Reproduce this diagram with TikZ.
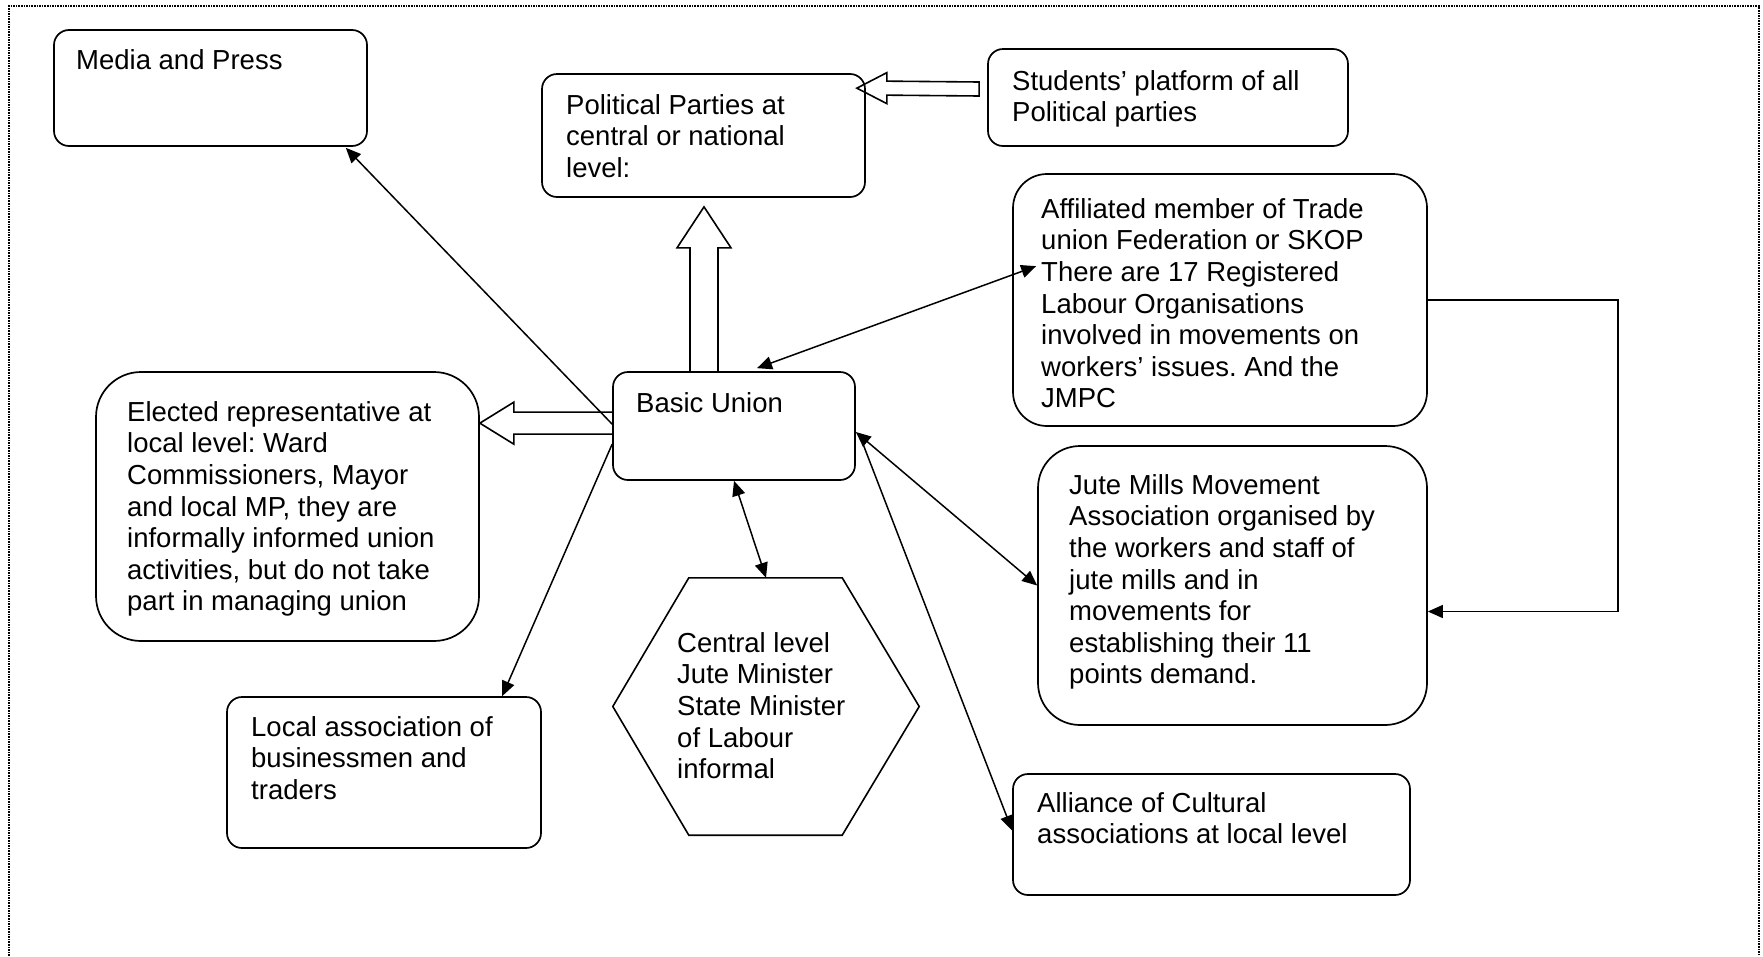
\documentclass[tikz,border=0pt]{standalone}
\usepackage{fontspec}
\setmainfont{Liberation Sans}
\usetikzlibrary{arrows.meta,calc}
\newcommand\lnstart{\rule{0pt}{20pt}}
\frenchspacing
\begin{document}
\begin{tikzpicture}[x=1pt,y=-1pt,
  box/.style={draw, line width=1.7pt, rounded corners=15pt, inner sep=0pt},
  txt/.style={anchor=north west, inner sep=0pt, align=left,
              font=\fontsize{27.5}{31.6}\selectfont},
  link/.style={line width=1.5pt, -{Triangle[length=15pt,width=13pt]}},
  dlink/.style={line width=1.5pt, {Triangle[length=15pt,width=13pt]}-{Triangle[length=15pt,width=13pt]}},
  block/.style={draw, line width=1.6pt, line join=miter},
  frame/.style={densely dotted, line width=1.6pt}]
\useasboundingbox (0,0) rectangle (1763,956);

% page frame
\draw[frame] (9,956) -- (9,6) -- (1759,6) -- (1759,956);

% boxes
\node[box, minimum width=313pt, minimum height=116pt] (media) at (210.5,88) {};
\node[box, minimum width=323pt, minimum height=123pt] (political) at (703.5,135.5) {};
\node[box, minimum width=360pt, minimum height=97pt] (students) at (1168,97.5) {};
\node[box, rounded corners=34pt, minimum width=414pt, minimum height=252pt] (affil) at (1220,300) {};
\node[box, minimum width=242pt, minimum height=108pt] (basic) at (734,426) {};
\node[box, rounded corners=45pt, minimum width=383pt, minimum height=269pt] (elected) at (287.5,506.5) {};
\node[box, minimum width=314pt, minimum height=151pt] (local) at (384,772.5) {};
\node[box, rounded corners=42pt, minimum width=389pt, minimum height=279pt] (jute) at (1232.5,585.5) {};
\node[box, minimum width=397pt, minimum height=121pt] (alliance) at (1211.5,834.5) {};

% hexagon for the ministers
\node[inner sep=0pt, minimum width=306pt, minimum height=257pt] (hex) at (766,706.5) {};
\draw[line width=1.6pt, line join=miter]
  (hex.west) -- ([xshift=76pt]hex.north west) -- ([xshift=-77pt]hex.north east)
  -- (hex.east) -- ([xshift=-77pt]hex.south east) -- ([xshift=76pt]hex.south west) -- cycle;

% texts
\node[txt] (mediatxt) at (76,49) {\lnstart Media and Press};
\node[txt] (politicaltxt) at (566,94) {\lnstart Political Parties at\\central or national\\level:};
\node[txt] (studentstxt) at (1012,70) {\lnstart Students’ platform of all\\Political parties};
\node[txt] (affiltxt) at (1041,198) {\lnstart Affiliated member of Trade\\union Federation or SKOP\\There are 17 Registered\\Labour Organisations\\involved in movements on\\workers’ issues. And the\\JMPC};
\node[txt] (basictxt) at (636,392) {\lnstart Basic Union};
\node[txt] (electedtxt) at (127,401) {\lnstart Elected representative at\\local level: Ward\\Commissioners, Mayor\\and local MP, they are\\informally informed union\\activities, but do not take\\part in managing union};
\node[txt] (localtxt) at (251,716) {\lnstart Local association of\\businessmen and\\traders};
\node[txt] (hextxt) at (677,632) {\lnstart Central level\\Jute Minister\\State Minister\\of Labour\\informal};
\node[txt] (jutetxt) at (1069,474) {\lnstart Jute Mills Movement\\Association organised by\\the workers and staff of\\jute mills and in\\movements for\\establishing their 11\\points demand.};
\node[txt] (alliancetxt) at (1037,792) {\lnstart Alliance of Cultural\\associations at local level};

% block arrow: Basic Union up to Political Parties
\coordinate (upbase) at ([xshift=-30pt]basic.north);
\coordinate (uptip) at ([yshift=-9pt]political.south);
\draw[block] ($(upbase)+(-14,0)$) -- ($(upbase |- uptip)+(-14,41)$) -- ($(upbase |- uptip)+(-27,41)$)
  -- (upbase |- uptip) -- ($(upbase |- uptip)+(27,41)$) -- ($(upbase |- uptip)+(14,41)$) -- ($(upbase)+(14,0)$);

% block arrow: Basic Union left to elected representatives
\coordinate (lbase) at ([yshift=-52pt]basic.north west);
\coordinate (ltip) at ([yshift=-52pt]elected.north east);
\draw[block] ($(lbase)+(0,-11)$) -- ($(ltip)+(34,-11)$) -- ($(ltip)+(34,-21)$) -- (ltip)
  -- ($(ltip)+(34,21)$) -- ($(ltip)+(34,11)$) -- ($(lbase)+(0,11)$);

% block arrow: Students' platform to Political Parties
\coordinate (sbase) at ([xshift=-8pt,yshift=8.5pt]students.west);
\coordinate (stip) at ([xshift=-9pt,yshift=-15pt]political.north east);
\draw[block] ($(sbase)+(0,-7)$) -- ($(stip)+(30,-7)$) -- ($(stip)+(30,-15.5)$) -- (stip)
  -- ($(stip)+(30,15.5)$) -- ($(stip)+(30,7)$) -- ($(sbase)+(0,7)$) -- cycle;

% connectors
\draw[link] ([yshift=-53pt]basic.north west) -- ([xshift=-22pt,yshift=-1pt]media.south east);
\draw[link] ([yshift=-73pt]basic.north west) -- ([xshift=276pt]local.north west);
\draw[dlink] (basic.south) -- (hex.north);
\draw[dlink] ([xshift=23pt,yshift=3pt]basic.north) -- ([xshift=24pt,yshift=-93pt]affil.north west);
\draw[dlink] ([yshift=-6pt]basic.east) -- (jute.west);
\draw[link] ([xshift=6pt,yshift=-15pt]basic.east) -- ([yshift=4pt]alliance.west);
\draw[link] (affil.east) -- ++(190,0) |- ([yshift=-26pt]jute.east);
\end{tikzpicture}
\end{document}
